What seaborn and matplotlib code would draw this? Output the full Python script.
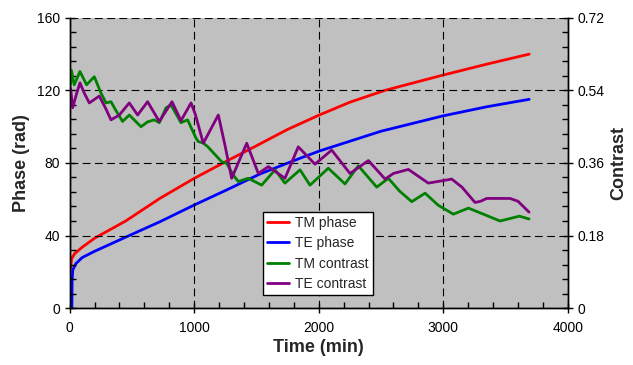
import numpy as np
import pandas as pd
import matplotlib
matplotlib.use("Agg")
import matplotlib.pyplot as plt
from matplotlib.ticker import MultipleLocator, FuncFormatter
import seaborn as sns

# ---- data ----
tm_phase_t = [8, 15, 40, 100, 200, 450, 725, 1000, 1260, 1500, 1750, 2000, 2250, 2530, 3000, 3350, 3690]
tm_phase_v = [22, 27, 30, 33.5, 38.5, 48, 60.5, 71.5, 81, 89.5, 98.5, 106.3, 113.5, 120, 128.5, 134.5, 140]

te_phase_t = [18, 20, 25, 50, 100, 200, 460, 725, 1000, 1260, 1530, 1850, 2010, 2500, 3000, 3350, 3690]
te_phase_v = [0, 15, 21, 24.5, 27.8, 31.3, 39.4, 47.6, 56.8, 65.1, 74, 82.6, 86.7, 97.5, 106, 111, 115.1]

tm_con_t = [8, 14, 37, 83, 136, 198, 251, 292, 332, 372, 425, 479, 573, 626, 680, 720, 774, 814,
            894, 947, 1014, 1033, 1071, 1110, 1221, 1261, 1314, 1354, 1434, 1542, 1649, 1729, 1850,
            1930, 2077, 2211, 2318, 2466, 2559, 2650, 2747, 2854, 2960, 3081, 3202, 3330, 3456, 3611, 3689]
tm_con_v = [0.555, 0.59, 0.554, 0.587, 0.554, 0.574, 0.534, 0.509, 0.512, 0.49, 0.463, 0.479, 0.45, 0.462,
            0.467, 0.46, 0.497, 0.504, 0.46, 0.467, 0.422, 0.413, 0.41, 0.40, 0.363, 0.359, 0.33, 0.314,
            0.322, 0.305, 0.343, 0.31, 0.343, 0.305, 0.347, 0.308, 0.353, 0.30, 0.322, 0.29, 0.264,
            0.285, 0.255, 0.233, 0.248, 0.232, 0.216, 0.228, 0.221]

te_con_t = [8, 24, 53, 83, 118, 158, 238, 290, 332, 399, 479, 546, 626, 720, 822, 894, 975, 1010,
            1073, 1194, 1250, 1301, 1422, 1515, 1596, 1729, 1836, 1970, 2104, 2251, 2399, 2533, 2600,
            2720, 2880, 3068, 3150, 3255, 3300, 3349, 3536, 3600, 3689]
te_con_v = [0.545, 0.497, 0.529, 0.559, 0.533, 0.509, 0.526, 0.495, 0.467, 0.479, 0.509, 0.479, 0.512,
            0.463, 0.512, 0.465, 0.509, 0.48, 0.409, 0.479, 0.40, 0.322, 0.409, 0.334, 0.351, 0.322,
            0.400, 0.357, 0.392, 0.334, 0.366, 0.320, 0.334, 0.344, 0.31, 0.32, 0.30, 0.262, 0.265,
            0.272, 0.272, 0.265, 0.238]

series_names = ["TM phase", "TE phase", "TM contrast", "TE contrast"]
series_colors = ["#FF0000", "#0000FF", "#008000", "#800080"]

# ---- style ----
sns.set_style("ticks")
plt.rcParams["font.family"] = ["Liberation Sans", "DejaVu Sans"]

fig = plt.figure(figsize=(6.33, 3.65), dpi=100)
ax = fig.add_axes([0.110, 0.156, 0.787, 0.795])
ax.set_facecolor("#C0C0C0")
ax2 = ax.twinx()

df_tm = pd.DataFrame({"t": tm_phase_t, "v": tm_phase_v})
df_te = pd.DataFrame({"t": te_phase_t, "v": te_phase_v})
df_tmc = pd.DataFrame({"t": tm_con_t, "v": tm_con_v})
df_tec = pd.DataFrame({"t": te_con_t, "v": te_con_v})

lw = 2.0
kw = dict(sort=False, estimator=None, legend=False, lw=lw)
sns.lineplot(data=df_tm, x="t", y="v", ax=ax, color=series_colors[0], label=series_names[0], **kw)
sns.lineplot(data=df_te, x="t", y="v", ax=ax, color=series_colors[1], label=series_names[1], **kw)
sns.lineplot(data=df_tmc, x="t", y="v", ax=ax2, color=series_colors[2], label=series_names[2], **kw)
sns.lineplot(data=df_tec, x="t", y="v", ax=ax2, color=series_colors[3], label=series_names[3], **kw)
for ln in ax.get_lines() + ax2.get_lines():
    ln.set_solid_joinstyle("round")

ax.set_xlim(0, 4000)
ax.set_ylim(0, 160)
ax2.set_ylim(0, 0.72)

ax.xaxis.set_major_locator(MultipleLocator(1000))
ax.xaxis.set_minor_locator(MultipleLocator(200))
ax.yaxis.set_major_locator(MultipleLocator(40))
ax.yaxis.set_minor_locator(MultipleLocator(8))
ax2.yaxis.set_major_locator(MultipleLocator(0.18))
ax2.yaxis.set_minor_locator(MultipleLocator(0.036))
ax2.yaxis.set_major_formatter(FuncFormatter(lambda v, p: "0" if abs(v) < 1e-9 else f"{v:.2f}"))

ax.grid(True, which="major", color="black", linestyle=(0, (7, 4)), lw=0.8)
ax.set_axisbelow(False)

for a in (ax, ax2):
    for s in ["left", "right", "bottom"]:
        a.spines[s].set_color("black")
        a.spines[s].set_linewidth(1.0)
    a.spines["top"].set_visible(False)
    a.tick_params(which="major", direction="inout", length=7, width=1, color="black", labelsize=10, labelcolor="#000000")
    a.tick_params(which="minor", direction="in", length=4, width=1, color="black")
ax.tick_params(axis="x", pad=6)

ax.set_xlabel("Time (min)", fontsize=13, fontweight="bold", labelpad=3)
ax.set_ylabel("Phase (rad)", fontsize=13, fontweight="bold", labelpad=5)
ax2.set_ylabel("Contrast", fontsize=13, fontweight="bold", labelpad=4)

handles = ax.get_lines()[:2] + ax2.get_lines()[:2]
leg = ax2.legend(handles, series_names, loc="lower left", bbox_to_anchor=(0.388, 0.045),
                 frameon=True, fancybox=False, framealpha=1, edgecolor="black", fontsize=10,
                 handlelength=1.6, handletextpad=0.4, borderpad=0.3, labelspacing=0.45,
                 borderaxespad=0)
leg.get_frame().set_linewidth(1.0)

fig.savefig("out.png", dpi=100)
